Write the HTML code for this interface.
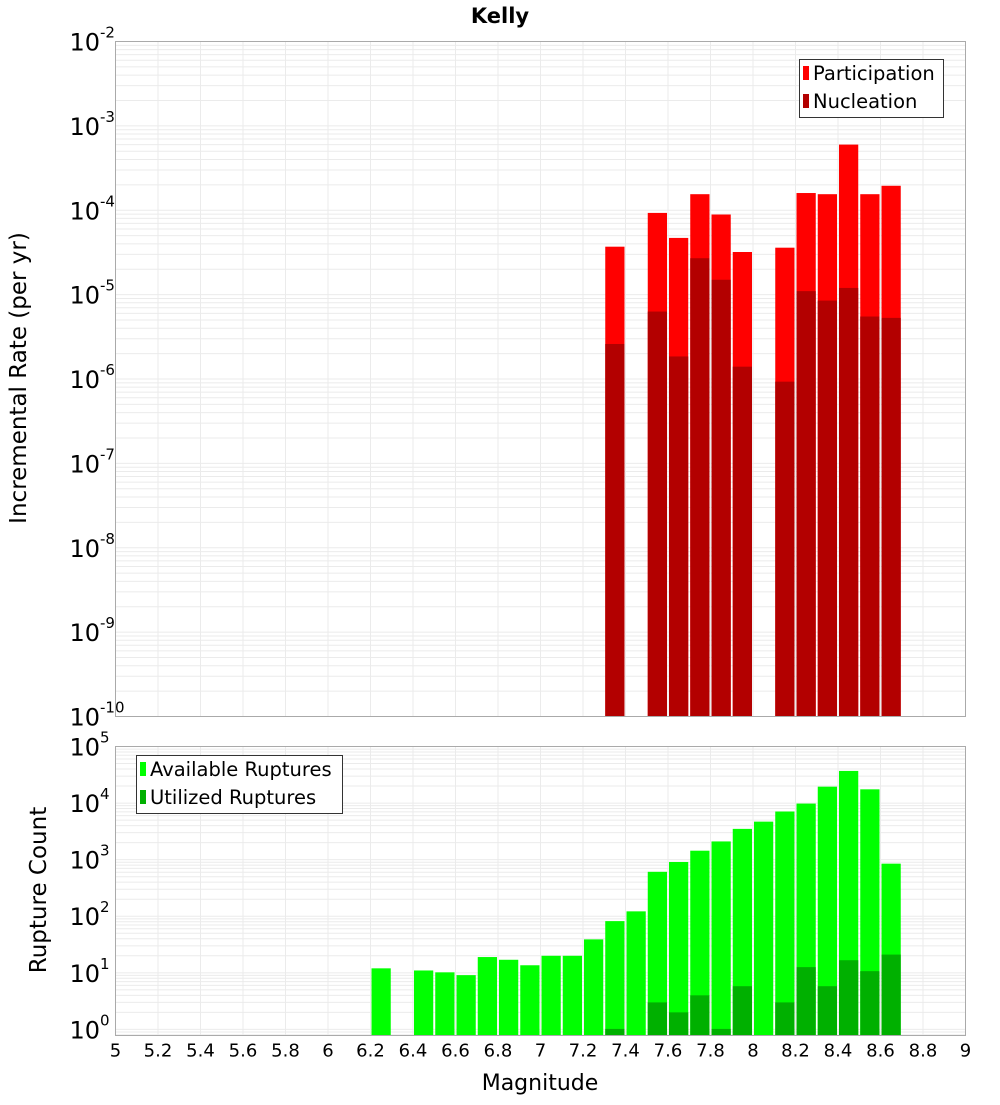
<!DOCTYPE html>
<html><head><meta charset="utf-8">
<style>
body{margin:0;background:#fff;}
svg text{font-family:"DejaVu Sans","Liberation Sans",sans-serif;}
</style></head>
<body>
<svg id="c" width="1000" height="1100" xmlns="http://www.w3.org/2000/svg">
<text x="500" y="23" text-anchor="middle" font-size="21" font-weight="bold">Kelly</text>
<g id="top"></g>
<g id="bot"></g>
<text transform="translate(26,378) rotate(-90)" text-anchor="middle" font-size="23">Incremental Rate (per yr)</text>
<text transform="translate(46,890) rotate(-90)" text-anchor="middle" font-size="23">Rupture Count</text>
<text x="540" y="1090" text-anchor="middle" font-size="22">Magnitude</text>
<g>
<rect x="799.5" y="59.5" width="144" height="58" fill="#fff" stroke="#333"/>
<rect x="803" y="66" width="6" height="14" fill="#ff0000"/>
<text x="813" y="80" font-size="19.5">Participation</text>
<rect x="803" y="94" width="6" height="14" fill="#b30000"/>
<text x="813" y="108" font-size="19.5">Nucleation</text>
</g>
<g>
<rect x="136.5" y="755.5" width="206" height="58" fill="#fff" stroke="#333"/>
<rect x="140" y="762" width="6" height="14" fill="#00ff00"/>
<text x="150" y="776" font-size="19.5">Available Ruptures</text>
<rect x="140" y="790" width="6" height="14" fill="#00b000"/>
<text x="150" y="804" font-size="19.5">Utilized Ruptures</text>
</g>
</svg>
<script>
const xTicks = [5,5.2,5.4,5.6,5.8,6,6.2,6.4,6.6,6.8,7,7.2,7.4,7.6,7.8,8,8.2,8.4,8.6,8.8,9];
const rateMags = [7.3,7.5,7.6,7.7,7.8,7.9,8.1,8.2,8.3,8.4,8.5,8.6];
const participation = [3.7e-5,9.3e-5,4.7e-5,1.55e-4,8.9e-5,3.2e-5,3.6e-5,1.6e-4,1.55e-4,6e-4,1.55e-4,1.95e-4];
const nucleation = [2.6e-6,6.3e-6,1.85e-6,2.7e-5,1.5e-5,1.4e-6,9.3e-7,1.1e-5,8.5e-6,1.2e-5,5.5e-6,5.3e-6];
const countMags = [6.2,6.4,6.5,6.6,6.7,6.8,6.9,7.0,7.1,7.2,7.3,7.4,7.5,7.6,7.7,7.8,7.9,8.0,8.1,8.2,8.3,8.4,8.5,8.6];
const available = [12,11,10.2,9.1,19,17,13.6,20,20,39,82,122,610,910,1440,2100,3500,4700,7100,9800,19500,37000,17500,850];
const utilized = [0,0,0,0,0,0,0,0,0,0,1.02,0,3,2,4,1.02,5.8,0,3,12.6,5.8,16.7,10.7,21];
const rateExps = [-2,-3,-4,-5,-6,-7,-8,-9,-10];
const countExps = [5,4,3,2,1,0];

const NS='http://www.w3.org/2000/svg';
const L=115.5,R=965.5;
const xs=m=>L+(m-5)/4*(R-L);
function mk(p,t,a){const e=document.createElementNS(NS,t);for(const k in a)e.setAttribute(k,a[k]);p.appendChild(e);return e;}

function panel(g,top,bot,lo,hi,exps,series,mags,isBottom,nameP){
  const ys=v=>bot-(Math.log10(v)-lo)/(hi-lo)*(bot-top);
  for(let d=Math.floor(lo);d<hi;d++){for(let k=1;k<10;k++){const v=k*Math.pow(10,d);const lv=Math.log10(v);if(lv<lo||lv>hi)continue;
    const y=ys(v);const l=mk(g,'line',{x1:L,x2:R,y1:y,y2:y,stroke:'#ebebeb','stroke-width':1});
    }}
  xTicks.forEach(t=>{const x=xs(t);const l=mk(g,'line',{x1:x,x2:x,y1:top,y2:bot,stroke:'#ebebeb','stroke-width':1});
    });
  series.forEach(s=>{
    mags.forEach((m,i)=>{const v=s.vals[i];if(!(v>0))return;const y=Math.max(top,ys(v));
      const r=mk(g,'rect',{x:xs(m)+1,y:y,width:xs(m+0.1)-xs(m)-2,height:bot-y,fill:s.col});
      });
  });
  const f=mk(g,'rect',{x:L,y:top,width:R-L,height:bot-top,fill:'none',stroke:'#aaa'});
  
  exps.forEach(e=>{const y=ys(Math.pow(10,e));
    const t=mk(g,'text',{x:100,y:y+9,'text-anchor':'end','font-size':24});
    
    t.textContent='10';
    const s=mk(g,'text',{x:100,y:y-4,'font-size':15});
    
    s.textContent=String(e);
  });
  if(isBottom){xTicks.forEach(t=>{const tx=mk(g,'text',{x:xs(t),y:bot+21,'text-anchor':'middle','font-size':18});
    tx.textContent=String(t);});}
}
panel(document.getElementById('top'),41.5,716.5,-10,-2,rateExps,
  [{vals:participation,col:'#ff0000',name:'participation'},{vals:nucleation,col:'#b30000',name:'nucleation'}],rateMags,false,'rate');
panel(document.getElementById('bot'),746.5,1035.5,Math.log10(0.78),5,countExps,
  [{vals:available,col:'#00ff00',name:'available'},{vals:utilized,col:'#00b000',name:'utilized'}],countMags,true,'count');
</script>
</body></html>
